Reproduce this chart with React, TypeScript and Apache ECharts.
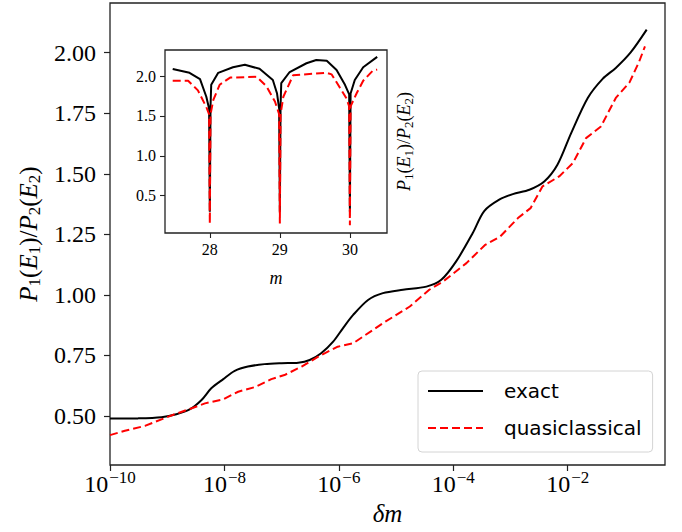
import React, { useEffect, useRef } from "react";
import * as echarts from "echarts";

// Main panel: x is log10(δm)
const exactLogDm = [-10.0, -9.51, -9.10, -8.84, -8.60, -8.40, -8.23, -8.02, -7.82, -7.59, -7.30, -7.00, -6.71, -6.51, -6.31, -6.10, -5.93, -5.75, -5.49, -5.23, -4.88, -4.47, -4.21, -3.95, -3.66, -3.46, -3.19, -2.96, -2.67, -2.41, -2.18, -1.94, -1.65, -1.39, -1.16, -0.90, -0.62];
const exactRatio = [0.489, 0.490, 0.495, 0.507, 0.528, 0.566, 0.614, 0.652, 0.686, 0.704, 0.714, 0.718, 0.720, 0.731, 0.759, 0.807, 0.862, 0.917, 0.979, 1.007, 1.021, 1.034, 1.062, 1.138, 1.255, 1.346, 1.394, 1.416, 1.434, 1.468, 1.537, 1.668, 1.813, 1.892, 1.937, 2.001, 2.095];

const quasiLogDm = [-10.0, -9.74, -9.39, -9.10, -8.87, -8.57, -8.34, -8.02, -7.76, -7.47, -7.18, -6.95, -6.65, -6.36, -6.02, -5.75, -5.23, -4.76, -4.42, -4.18, -3.77, -3.45, -3.18, -2.87, -2.65, -2.44, -2.15, -1.91, -1.68, -1.42, -1.16, -0.92, -0.75, -0.65];
const quasiRatio = [0.421, 0.439, 0.459, 0.486, 0.507, 0.532, 0.552, 0.569, 0.600, 0.619, 0.652, 0.669, 0.704, 0.745, 0.786, 0.800, 0.883, 0.952, 1.021, 1.055, 1.131, 1.205, 1.241, 1.317, 1.358, 1.448, 1.489, 1.544, 1.647, 1.695, 1.813, 1.877, 1.964, 2.026];

const xTickExponents = [-10, -8, -6, -4, -2];
const yTicks = [0.5, 0.75, 1.0, 1.25, 1.5, 1.75, 2.0];

// Inset panel: ratio vs m
const insetExactM = [27.47, 27.71, 27.86, 27.95, 27.99, 28.0, 28.01, 28.02, 28.12, 28.33, 28.5, 28.71, 28.9, 28.96, 28.99, 29.0, 29.01, 29.02, 29.14, 29.38, 29.52, 29.67, 29.81, 29.93, 29.99, 30.0, 30.01, 30.07, 30.19, 30.39];
const insetExactRatio = [2.088, 2.04, 1.96, 1.74, 1.59, 0.30, 1.62, 1.89, 2.04, 2.11, 2.14, 2.09, 1.95, 1.78, 1.59, 0.30, 1.62, 1.91, 2.05, 2.16, 2.20, 2.19, 2.075, 1.89, 1.77, 0.30, 1.78, 1.95, 2.11, 2.24];

const insetQuasiM = [27.47, 27.69, 27.83, 27.95, 27.99, 28.0, 28.01, 28.05, 28.14, 28.29, 28.67, 28.81, 28.93, 28.99, 29.0, 29.01, 29.05, 29.19, 29.67, 29.74, 29.86, 29.95, 29.99, 30.0, 30.01, 30.1, 30.19, 30.33, 30.39];
const insetQuasiRatio = [1.94, 1.94, 1.82, 1.61, 1.52, 0.15, 1.52, 1.70, 1.89, 1.98, 1.99, 1.87, 1.68, 1.52, 0.15, 1.52, 1.74, 2.01, 2.04, 2.02, 1.85, 1.72, 1.62, 0.13, 1.62, 1.79, 1.94, 2.07, 2.08];

const insetXTicks = [28, 29, 30];
const insetYTicks = [0.5, 1.0, 1.5, 2.0];

const zip = (xs: number[], ys: number[]) => xs.map((x, i) => [x, ys[i]]);

export default function App() {
  const ref = useRef<HTMLDivElement>(null);

  useEffect(() => {
    const chart = echarts.init(ref.current!, null, { renderer: "svg" });
    const serif = "'Liberation Serif', 'Times New Roman', serif";
    const sans = "'DejaVu Sans', sans-serif";
    const ink = "#222";

    const mathRich = (base: number, sub: number, drop: number) => ({
      i: { fontFamily: serif, fontStyle: "italic", fontSize: base, color: "#000" },
      r: { fontFamily: serif, fontSize: base, color: "#000" },
      s: { fontFamily: serif, fontSize: sub, color: "#000", padding: [drop, 0, 0, 0] },
    });
    const ratioLabel = "{i|P}{s|1}{r|(}{i|E}{s|1}{r|)/}{i|P}{s|2}{r|(}{i|E}{s|2}{r|)}";

    const option: any = {
      animation: false,
      backgroundColor: "#fff",
      grid: [
        { left: 110, top: 3, width: 555, height: 462, show: true, borderColor: ink, borderWidth: 1.3, backgroundColor: "transparent", containLabel: false },
        { left: 165, top: 50, width: 222, height: 183, show: true, borderColor: ink, borderWidth: 1.3, backgroundColor: "#fff", containLabel: false, z: 5 },
      ],
      xAxis: [
        {
          gridIndex: 0,
          type: "value",
          min: -10,
          max: -0.3,
          axisLine: { show: false },
          splitLine: { show: false },
          axisTick: { show: true, length: 6, lineStyle: { color: ink, width: 1.2 }, customValues: xTickExponents },
          axisLabel: {
            margin: 4,
            customValues: xTickExponents,
            formatter: (v: number) => `{b|10}{s|\u2212${Math.abs(v)}}`,
            rich: {
              b: { fontFamily: serif, fontSize: 24, color: "#000" },
              s: { fontFamily: serif, fontSize: 17, color: "#000", padding: [0, 0, 12, 1] },
            },
          },
          name: "{i|δm}",
          nameLocation: "middle",
          nameGap: 36,
          nameTextStyle: { rich: { i: { fontFamily: serif, fontStyle: "italic", fontSize: 25, color: "#000" } } },
        },
        {
          gridIndex: 1,
          type: "value",
          min: 27.36,
          max: 30.53,
          axisLine: { show: false },
          splitLine: { show: false },
          axisTick: { show: true, length: 5, lineStyle: { color: ink, width: 1.1 }, customValues: insetXTicks },
          axisLabel: { margin: 8, customValues: insetXTicks, fontFamily: serif, fontSize: 16, color: "#000" },
          name: "{i|m}",
          nameLocation: "middle",
          nameGap: 36,
          nameTextStyle: { rich: { i: { fontFamily: serif, fontStyle: "italic", fontSize: 18, color: "#000" } } },
          z: 6,
        },
      ],
      yAxis: [
        {
          gridIndex: 0,
          type: "value",
          min: 0.2975,
          max: 2.205,
          axisLine: { show: false },
          splitLine: { show: false },
          axisTick: { show: true, length: 6, lineStyle: { color: ink, width: 1.2 }, customValues: yTicks },
          axisLabel: { margin: 14, customValues: yTicks, formatter: (v: number) => v.toFixed(2), fontFamily: serif, fontSize: 24, color: "#000" },
          name: ratioLabel,
          nameLocation: "middle",
          nameGap: 66,
          nameTextStyle: { rich: mathRich(25, 17, 12) },
        },
        {
          gridIndex: 1,
          type: "value",
          min: 0.032,
          max: 2.326,
          axisLine: { show: false },
          splitLine: { show: false },
          axisTick: { show: true, length: 5, lineStyle: { color: ink, width: 1.1 }, customValues: insetYTicks },
          axisLabel: { margin: 9, customValues: insetYTicks, formatter: (v: number) => v.toFixed(1), fontFamily: serif, fontSize: 16, color: "#000" },
          z: 6,
        },
        {
          gridIndex: 1,
          type: "value",
          position: "right",
          min: 0.032,
          max: 2.326,
          axisLine: { show: false },
          axisTick: { show: false },
          axisLabel: { show: false },
          splitLine: { show: false },
          name: ratioLabel,
          nameLocation: "middle",
          nameGap: 6,
          nameTextStyle: { rich: mathRich(18, 13, 9) },
          z: 6,
        },
      ],
      legend: {
        left: 418,
        top: 371,
        orient: "vertical",
        data: ["exact", "quasiclassical"],
        itemWidth: 55,
        itemHeight: 14,
        itemGap: 13,
        padding: [8, 11, 12, 9],
        backgroundColor: "#fff",
        borderColor: "#d4d4d4",
        borderWidth: 1,
        borderRadius: 4,
        itemStyle: { opacity: 0 },
        textStyle: { fontFamily: sans, fontSize: 20, color: "#000", lineHeight: 24, padding: [0, 0, 0, 16] },
        selectedMode: false,
      },
      series: [
        {
          name: "exact",
          type: "line",
          xAxisIndex: 0,
          yAxisIndex: 0,
          data: zip(exactLogDm, exactRatio),
          showSymbol: false,
          symbol: "none",
          smooth: 0.3,
          lineStyle: { color: "#000", width: 2 },
          itemStyle: { color: "#000" },
        },
        {
          name: "quasiclassical",
          type: "line",
          xAxisIndex: 0,
          yAxisIndex: 0,
          data: zip(quasiLogDm, quasiRatio),
          showSymbol: false,
          symbol: "none",
          lineStyle: { color: "#ff0000", width: 2, type: [8, 4] },
          itemStyle: { color: "#ff0000" },
        },
        {
          name: "exact",
          type: "line",
          xAxisIndex: 1,
          yAxisIndex: 1,
          data: zip(insetExactM, insetExactRatio),
          showSymbol: false,
          symbol: "none",
          lineStyle: { color: "#000", width: 2 },
          itemStyle: { color: "#000" },
          z: 7,
        },
        {
          name: "quasiclassical",
          type: "line",
          xAxisIndex: 1,
          yAxisIndex: 1,
          data: zip(insetQuasiM, insetQuasiRatio),
          showSymbol: false,
          symbol: "none",
          lineStyle: { color: "#ff0000", width: 2, type: [8, 4] },
          itemStyle: { color: "#ff0000" },
          z: 8,
        },
      ],
    };

    chart.setOption(option);
    return () => chart.dispose();
  }, []);

  return (
    <div
      ref={ref}
      style={{ position: "fixed", left: 0, top: 0, width: 682, height: 532, background: "#fff" }}
    />
  );
}
